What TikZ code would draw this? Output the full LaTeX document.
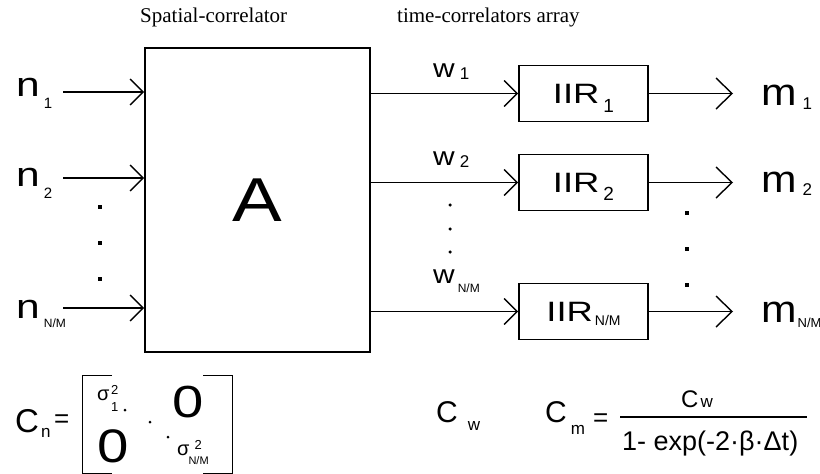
\documentclass[tikz,border=0pt]{standalone}
\usepackage{fontspec}
\usepackage{graphicx}
\setmainfont{Liberation Sans}
\newfontfamily\titlefont{Liberation Serif}
\usetikzlibrary{arrows.meta}
\newcommand{\fs}[1]{\fontsize{#1}{#1}\selectfont}
\newcommand{\lsub}[3]{\hspace{#1}\smash{\raisebox{-#2}{#3}}}
\newcommand{\hs}[2]{\scalebox{#1}[1]{#2}}
\begin{document}
\begin{tikzpicture}[x=1pt,y=-1pt,
  box/.style={draw,line width=1.7pt,inner sep=0pt},
  bigbox/.style={box,minimum width=225pt,minimum height=304pt},
  iirbox/.style={box,minimum width=129pt,minimum height=56pt},
  arr/.style={line width=1.5pt,-{Straight Barb[length=13pt,width=26pt,line width=1.4pt]}},
  arrout/.style={line width=1.5pt,-{Straight Barb[length=16pt,width=31pt,line width=1.4pt]}},
  lbl/.style={anchor=base west,inner sep=0pt},
  sqdot/.style={fill,minimum size=4.5pt,inner sep=0pt},
  rdot/.style={fill,circle,minimum size=3.5pt,inner sep=0pt},
  mdot/.style={fill,circle,minimum size=3pt,inner sep=0pt}]
\useasboundingbox (0,0) rectangle (820,474);

% titles
\node[lbl] (t1) at (140,22) {\titlefont\fs{21}Spatial-correlator};
\node[lbl] (t2) at (397,22) {\titlefont\fs{21}time-correlators array};

% main box
\node[bigbox] (sc) at (257.5,200) {\fs{62}\hs{1.2}{A}};

% IIR boxes
\node[iirbox] (iir1) at (583.5,93.5) {\fs{28}\hs{1.3}{IIR}\lsub{4pt}{9pt}{\fs{19}1}};
\node[iirbox] (iir2) at (583.5,182.5) {\fs{28}\hs{1.3}{IIR}\lsub{4pt}{8pt}{\fs{19}2}};
\node[iirbox] (iir3) at (583.5,311.5) {\fs{28}\hs{1.3}{IIR}\lsub{2pt}{4pt}{\fs{14}N/M}};

% inputs
\coordinate (i1) at (63,92);
\coordinate (i2) at (63,178);
\coordinate (i3) at (63,308);
\draw[arr] (i1) -- (i1 -| sc.west);
\draw[arr] (i2) -- (i2 -| sc.west);
\draw[arr] (i3) -- (i3 -| sc.west);
\node[lbl] (n1) at (16,96) {\fs{34}\hs{1.25}{n}\lsub{4pt}{12pt}{\fs{15}1}};
\node[lbl] (n2) at (16,186) {\fs{34}\hs{1.25}{n}\lsub{4pt}{12pt}{\fs{15}2}};
\node[lbl] (n3) at (16,318) {\fs{34}\hs{1.25}{n}\lsub{4pt}{9pt}{\fs{12}N/M}};
\node[sqdot] (ld1) at (100,207) {};
\node[sqdot] (ld2) at (100,243) {};
\node[sqdot] (ld3) at (100,279) {};

% w lines
\draw[arr] (sc.east |- iir1) -- (iir1.west);
\draw[arr] (sc.east |- iir2) -- (iir2.west);
\draw[arr] (sc.east |- iir3) -- (iir3.west);
\node[lbl] (w1) at (433,77) {\fs{26}\hs{1.15}{w}\lsub{5pt}{2pt}{\fs{17}1}};
\node[lbl] (w2) at (433,165) {\fs{26}\hs{1.15}{w}\lsub{5pt}{2pt}{\fs{17}2}};
\node[lbl] (w3) at (433,283) {\fs{26}\hs{1.15}{w}\lsub{3pt}{9pt}{\fs{12}N/M}};
\node[rdot] (md1) at (450,205) {};
\node[rdot] (md2) at (450,229) {};
\node[rdot] (md3) at (450,252) {};

% outputs
\coordinate (o1) at (733,93.5);
\coordinate (o2) at (733,182.5);
\coordinate (o3) at (733,311.5);
\draw[arrout] (iir1.east) -- (o1);
\draw[arrout] (iir2.east) -- (o2);
\draw[arrout] (iir3.east) -- (o3);
\node[lbl] (m1) at (761,105) {\fs{38}\hs{1.12}{m}\lsub{6pt}{4pt}{\fs{17}1}};
\node[lbl] (m2) at (761,192) {\fs{38}\hs{1.12}{m}\lsub{6pt}{3pt}{\fs{17}2}};
\node[lbl] (m3) at (761,322) {\fs{38}\hs{1.12}{m}\lsub{1pt}{5pt}{\fs{13}N/M}};
\node[sqdot] (rd1) at (687,213) {};
\node[sqdot] (rd2) at (687,249) {};
\node[sqdot] (rd3) at (687,285) {};

% C_n matrix
\node[lbl] (cn) at (15,432) {\fs{33}C\lsub{2pt}{5pt}{\fs{17}n}};
\node[lbl] (eq1) at (54,427) {\fs{26}=};
\draw[line width=1pt] (112,375) -- (82,375) -- (82,473) -- (112,473);
\draw[line width=1pt] (203,375) -- (232,375) -- (232,473) -- (203,473);
\node[lbl] (s1) at (97,400) {\fs{20}σ\hspace{1.5pt}\rlap{\raisebox{6pt}{\fs{13}2}}\raisebox{-11pt}{\fs{13}1}};
\node[lbl] (z1) at (172,417) {\fs{45}\hs{1.25}{0}};
\node[lbl] (z2) at (97,462) {\fs{47}\hs{1.2}{0}};
\node[lbl] (s2) at (177,455) {\fs{20}σ\hspace{5pt}\rlap{\raisebox{6pt}{\fs{13}2}}\hspace{-6pt}\raisebox{-9pt}{\fs{11}N/M}};
\node[mdot] (dd1) at (125,410) {};
\node[mdot] (dd2) at (150,422) {};
\node[mdot] (dd3) at (168,437) {};

% C_w
\node[lbl] (cw) at (436,422) {\fs{30}C\lsub{10pt}{8pt}{\fs{17}w}};

% C_m
\node[lbl] (cm) at (545,422) {\fs{30}C\lsub{4pt}{12pt}{\fs{17}m}};
\node[lbl] (eq2) at (593,426) {\fs{26}=};
\coordinate (fb1) at (620,417);
\coordinate (fb2) at (807,417);
\draw[line width=1.4pt] (fb1) -- (fb2);
\node[lbl] (num) at (681,407) {\fs{24}C\hspace{2pt}\fs{17}w};
\node[lbl] (den) at (622,450) {\fs{27}1- exp(-2·β·Δt)};
\end{tikzpicture}
\end{document}
